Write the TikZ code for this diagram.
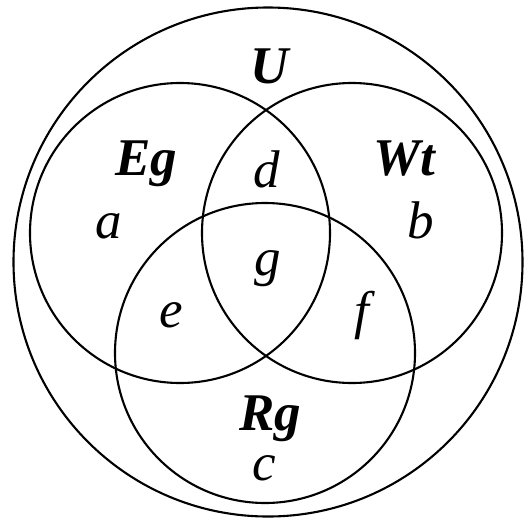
\documentclass[tikz,border=0pt]{standalone}
\usepackage{fontspec}
\setmainfont{Liberation Serif}
\usepackage{tikz}
\usetikzlibrary{positioning}

\begin{document}
\begin{tikzpicture}[
    x=1pt, y=-1pt,
    set/.style={
        draw=black,
        circle,
        line width=2.1pt,
        inner sep=0pt,
        minimum size=300pt
    },
    universe/.style={
        draw=black,
        circle,
        line width=2.1pt,
        inner sep=0pt,
        minimum size=509pt
    },
    setname/.style={
        anchor=base,
        inner sep=0pt,
        font=\fontsize{53}{60}\selectfont\bfseries\itshape
    },
    region/.style={
        anchor=base,
        inner sep=0pt,
        font=\fontsize{53}{60}\selectfont\itshape
    }
]

\useasboundingbox (0,0) rectangle (527,517);

% universe and the three sets
\node[universe] (uni) at (268,262) {};
\node[set] (eg) at (180,233) {};
\node[set] (wt) at (352,233) {};
\node[set] (rg) at (265,353) {};

% set names
\node[setname] (lu) at (270,83) {U};
\node[setname] (leg) at (146,175) {Eg};
\node[setname] (lwt) at (404,175) {Wt};
\node[setname] (lrg) at (270,430) {Rg};

% regions
\node[region] (ra) at (109,238) {a};
\node[region] (rb) at (421,238) {b};
\node[region] (rc) at (264,480) {c};
\node[region] (rd) at (267,187) {d};
\node[region] (re) at (171,327) {e};
\node[region] (rf) at (362,328) {f};
\node[region] (rgg) at (268,275) {g};

\end{tikzpicture}
\end{document}
